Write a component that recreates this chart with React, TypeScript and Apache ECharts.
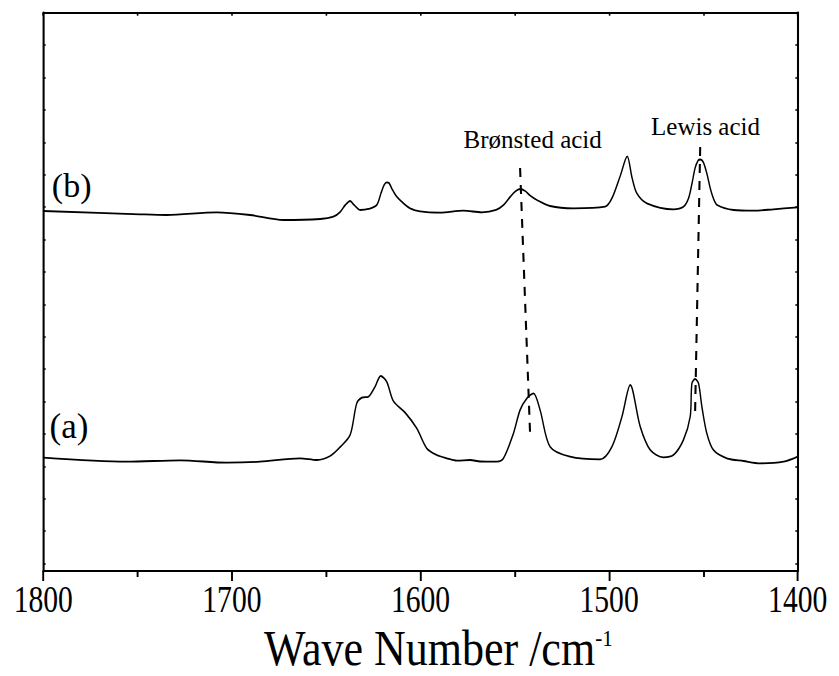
import React, { useEffect, useRef } from "react";
import * as echarts from "echarts";

// Wavenumber (cm^-1) and absorbance (arbitrary units, 1 unit = one y-tick spacing)
const WN_B = [1800, 1748.7, 1734.6, 1708, 1690.4, 1672.7, 1653.2, 1646.2, 1642.6, 1639.9, 1637.3, 1635.2, 1632, 1627.6, 1623.2, 1620.9, 1619.3, 1617.9, 1616.7, 1615.1, 1612.6, 1609.2, 1605.5, 1600.2, 1589.6, 1577.2, 1567.5, 1559.9, 1556, 1552.5, 1549.8, 1547.2, 1544.5, 1541.9, 1538.3, 1531.3, 1518.9, 1502.1, 1498.5, 1494.1, 1490.4, 1487.8, 1485.3, 1480, 1465.9, 1460.6, 1457.9, 1456, 1454.4, 1452.8, 1451.7, 1450.1, 1448.2, 1446.4, 1444.7, 1442.7, 1434, 1423.4, 1412.8, 1400];
const ABS_B = [11.111, 11.009, 10.988, 11.071, 10.988, 10.833, 10.864, 10.935, 11.08, 11.296, 11.42, 11.296, 11.142, 11.173, 11.296, 11.667, 11.914, 11.997, 11.975, 11.79, 11.553, 11.358, 11.194, 11.096, 11.059, 11.12, 11.071, 11.142, 11.296, 11.543, 11.713, 11.79, 11.728, 11.59, 11.451, 11.265, 11.194, 11.244, 11.503, 12.191, 12.799, 12.13, 11.657, 11.349, 11.164, 11.244, 11.503, 11.975, 12.438, 12.67, 12.701, 12.623, 12.275, 11.821, 11.503, 11.296, 11.142, 11.12, 11.164, 11.225];

const WN_A = [1800, 1755.8, 1727.5, 1702.7, 1685.1, 1663.9, 1655, 1647.9, 1642.6, 1637.3, 1633.8, 1631.1, 1627.6, 1624.1, 1621.1, 1617.9, 1614.4, 1608.2, 1602, 1596.7, 1591.4, 1586.1, 1580.7, 1573.7, 1568.4, 1559.5, 1556, 1550.7, 1547.2, 1543.6, 1540.1, 1536.6, 1531.3, 1520.7, 1504.7, 1498.5, 1493.2, 1488.8, 1483.5, 1478.2, 1471.2, 1465.9, 1460.6, 1457, 1456.1, 1454.4, 1452.6, 1450.8, 1448.2, 1444.7, 1437.6, 1428.7, 1419.9, 1407.5, 1400];
const ABS_A = [3.497, 3.373, 3.417, 3.343, 3.373, 3.478, 3.426, 3.549, 3.827, 4.198, 5.176, 5.349, 5.38, 5.688, 6.019, 5.843, 5.247, 4.892, 4.404, 3.787, 3.58, 3.478, 3.404, 3.426, 3.38, 3.373, 3.478, 4.25, 4.969, 5.33, 5.485, 4.969, 3.836, 3.528, 3.448, 3.836, 4.762, 5.741, 4.454, 3.735, 3.509, 3.58, 4.043, 4.762, 5.793, 5.926, 5.793, 5.071, 4.25, 3.735, 3.478, 3.395, 3.324, 3.373, 3.528];

// Guide lines marking the acid-site bands
const BRONSTED_WN = [1547.2, 1541.9];
const BRONSTED_Y = [12.438, 4.25];
const LEWIS_WN = [1451.7, 1454.4];
const LEWIS_Y = [13.086, 4.907];

// Axes
const X_MIN = 1400;
const X_MAX = 1800;
const X_LABEL_STEP = 100;
const X_TICK_STEP = 50;
const Y_MAX = 17.231;
const Y_TICKS = Array.from({ length: 17 }, (_, k) => +(Y_MAX - (k + 1)).toFixed(3));

const TITLE = "Wave Number /cm";
const TITLE_SUP = "-1";
const LABEL_A = "(a)";
const LABEL_B = "(b)";
const LABEL_BRONSTED = "Brønsted acid";
const LABEL_LEWIS = "Lewis acid";

const S = 0.8; // horizontal compression of the original figure
const W = 839 / S;
const H = 676;
const FONT = "Liberation Serif";

const pairs = (xs: number[], ys: number[]) => xs.map((x, i) => [x, ys[i]]);

export default function App() {
  const ref = useRef<HTMLDivElement>(null);

  useEffect(() => {
    if (!ref.current) return;
    const chart = echarts.init(ref.current, undefined, { renderer: "svg" });
    const black = "#000";
    const curve = {
      type: "line" as const,
      symbol: "none",
      smooth: 0.3,
      xAxisIndex: 0,
      yAxisIndex: 0,
      lineStyle: { color: black, width: 1.8 },
      silent: true,
    };
    const dashed = {
      type: "line" as const,
      symbol: "none",
      xAxisIndex: 0,
      yAxisIndex: 0,
      lineStyle: { color: black, width: 2.6, type: [9, 8] as any },
      silent: true,
    };
    const xCommon = {
      type: "value" as const,
      min: X_MIN,
      max: X_MAX,
      inverse: true,
      splitLine: { show: false },
    };
    const yCommon = {
      type: "value" as const,
      min: 0,
      max: Y_MAX,
      splitLine: { show: false },
      axisLabel: { show: false },
      axisLine: { show: true, lineStyle: { color: black, width: 2.6 } },
      axisTick: {
        show: true,
        inside: true,
        length: 3,
        customValues: Y_TICKS,
        lineStyle: { color: black, width: 1.5 },
      },
    };
    const label = (text: string, xa: number, y: number, size: number) => ({
      type: "text",
      x: xa / S,
      y,
      scaleX: 1 / S,
      silent: true,
      style: {
        text,
        fontSize: size,
        fontFamily: FONT,
        fill: black,
        align: "center",
        verticalAlign: "middle",
      },
    });

    chart.setOption({
      animation: false,
      backgroundColor: "#fff",
      grid: {
        left: 43.3 / S,
        right: W - 797.5 / S,
        top: 12.7,
        bottom: H - 571,
        containLabel: false,
      },
      xAxis: [
        {
          ...xCommon,
          position: "bottom",
          interval: X_LABEL_STEP,
          axisLine: { show: true, onZero: false, lineStyle: { color: black, width: 2 } },
          axisTick: { show: true, inside: false, length: 10, lineStyle: { color: black, width: 2.4 } },
          minorTick: {
            show: true,
            splitNumber: X_LABEL_STEP / X_TICK_STEP,
            length: 6,
            lineStyle: { color: black, width: 2.4 },
          },
          minorSplitLine: { show: false },
          axisLabel: {
            show: true,
            color: black,
            fontFamily: FONT,
            fontSize: 37,
            lineHeight: 28,
            margin: 14.5,
            formatter: (v: number) => String(v),
          },
        },
        {
          ...xCommon,
          position: "top",
          interval: X_TICK_STEP,
          axisLine: { show: true, onZero: false, lineStyle: { color: black, width: 2 } },
          axisTick: { show: true, inside: true, length: 3, lineStyle: { color: black, width: 2 } },
          axisLabel: { show: false },
        },
      ],
      yAxis: [
        { ...yCommon, position: "left" },
        { ...yCommon, position: "right" },
      ],
      series: [
        { ...curve, name: "(a)", data: pairs(WN_A, ABS_A) },
        { ...curve, name: "(b)", data: pairs(WN_B, ABS_B) },
        { ...dashed, name: "Brønsted acid", data: pairs(BRONSTED_WN, BRONSTED_Y) },
        { ...dashed, name: "Lewis acid", data: pairs(LEWIS_WN, LEWIS_Y) },
      ],
      graphic: [
        label(LABEL_B, 71.7, 185.5, 34),
        label(LABEL_A, 69, 426, 35),
        label(LABEL_BRONSTED, 532.7, 139, 25),
        label(LABEL_LEWIS, 705.5, 126.5, 25),
        {
          type: "text",
          x: 264 / S,
          y: 648,
          scaleX: 1.1,
          silent: true,
          style: {
            text: `{m|${TITLE}}{s|${TITLE_SUP}}`,
            align: "left",
            verticalAlign: "middle",
            fill: black,
            fontFamily: FONT,
            rich: {
              m: { fontSize: 50, fontFamily: FONT, fill: black, lineHeight: 44 },
              s: { fontSize: 24, fontFamily: FONT, fill: black, verticalAlign: "top", lineHeight: 18 },
            },
          },
        },
      ],
    });
    return () => chart.dispose();
  }, []);

  return (
    <div
      style={{
        position: "fixed",
        left: 0,
        top: 0,
        width: 839,
        height: H,
        overflow: "hidden",
        background: "#fff",
      }}
    >
      <div
        ref={ref}
        style={{ width: W, height: H, transform: `scaleX(${S})`, transformOrigin: "0 0" }}
      />
    </div>
  );
}
